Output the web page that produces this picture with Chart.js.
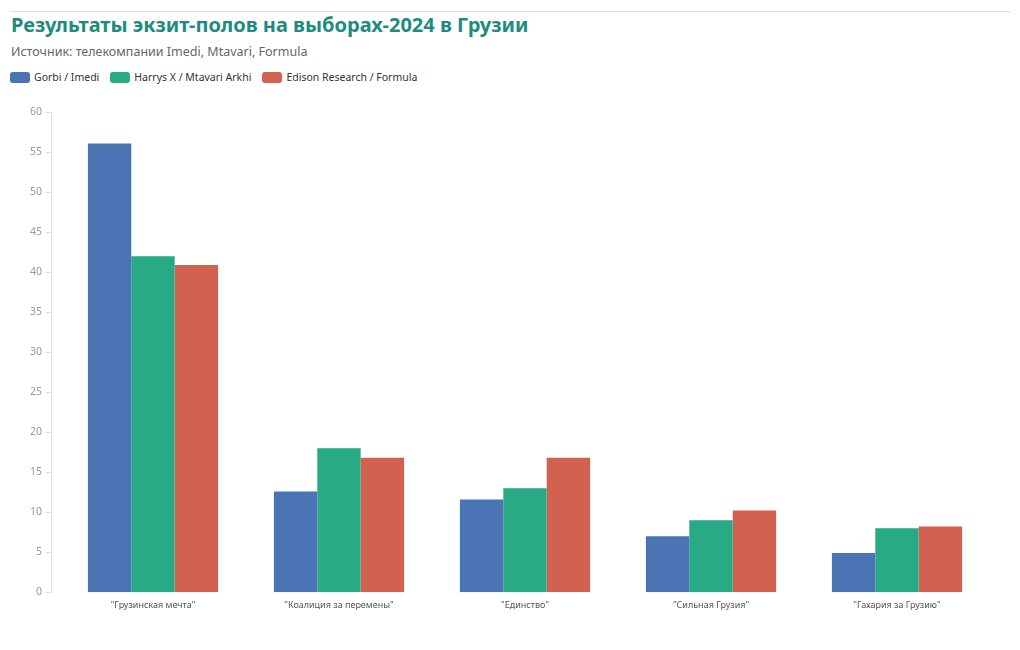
<!DOCTYPE html>
<html>
<head>
<meta charset="utf-8">
<script src="https://cdn.jsdelivr.net/npm/chart.js@4"></script>
<style>
  body { margin: 0; background: #fff; font-family: "Noto Sans", sans-serif; }
  #wrap { position: relative; width: 1020px; height: 650px; }
  #rule { position: absolute; left: 10px; top: 11px; width: 1000px; border-top: 1px solid #ddd; }
  #title { position: absolute; left: 11px; top: 11px; font-size: 20px; font-weight: 700; color: #1d8c7e; white-space: nowrap; }
  #subtitle { position: absolute; left: 11px; top: 43px; font-size: 12.5px; color: #666; white-space: nowrap; }
  #legend { position: absolute; left: 10px; top: 70px; font-size: 10.5px; color: #333; display: flex; }
  #legend span.item { display: flex; align-items: center; margin-right: 11px; }
  #legend span.box { width: 20px; height: 11px; border-radius: 3px; margin-right: 4px; }
  #box { position: absolute; left: 0; top: 88px; width: 1020px; height: 540px; }
</style>
</head>
<body>
<div id="wrap">
  <div id="rule"></div>
  <div id="title">Результаты экзит-полов на выборах-2024 в Грузии</div>
  <div id="subtitle">Источник: телекомпании Imedi, Mtavari, Formula</div>
  <div id="legend"></div>
  <div id="box"><canvas id="chart"></canvas></div>
</div>
<script>
const parties = ['"Грузинская мечта"', '"Коалиция за перемены"', '"Единство"', '"Сильная Грузия"', '"Гахария за Грузию"'];
const seriesNames = ['Gorbi / Imedi', 'Harrys X / Mtavari Arkhi', 'Edison Research / Formula'];
const gorbi = [56.1, 12.6, 11.6, 7.0, 4.9];
const harrys = [42.0, 18.0, 13.0, 9.0, 8.0];
const edison = [40.9, 16.8, 16.8, 10.2, 8.2];
const colors = ['#4a74b4', '#28ab84', '#d16250'];

const values = [gorbi, harrys, edison];

// legend in html, built from the series
const legend = document.getElementById('legend');
seriesNames.forEach((name, i) => {
  const item = document.createElement('span');
  item.className = 'item';
  const box = document.createElement('span');
  box.className = 'box';
  box.style.background = colors[i];
  item.appendChild(box);
  item.appendChild(document.createTextNode(name));
  legend.appendChild(item);
});

// y axis line sits a bit left of the plot
const axisLine = {
  id: 'axisLine',
  afterDraw(chart) {
    const ctx = chart.ctx;
    const y = chart.scales.y;
    const x = chart.chartArea.left - 9;
    ctx.save();
    ctx.strokeStyle = '#e0e0e0';
    ctx.lineWidth = 1;
    ctx.beginPath();
    ctx.moveTo(x + 0.5, y.top);
    ctx.lineTo(x + 0.5, y.bottom);
    y.ticks.forEach(t => {
      const py = Math.round(y.getPixelForValue(t.value)) + 0.5;
      ctx.moveTo(x - 5, py);
      ctx.lineTo(x + 0.5, py);
    });
    ctx.stroke();
    ctx.restore();
  }
};

new Chart(document.getElementById('chart'), {
  type: 'bar',
  data: {
    labels: parties,
    datasets: seriesNames.map((name, i) => ({
      label: name,
      data: values[i],
      backgroundColor: colors[i],
      borderWidth: 0,
      categoryPercentage: 0.7,
      barPercentage: 1.0
    }))
  },
  options: {
    responsive: true,
    maintainAspectRatio: false,
    animation: false,
    layout: { padding: { left: 11, right: 30, top: 19, bottom: 9 } },
    plugins: {
      legend: { display: false },
      tooltip: { enabled: false }
    },
    scales: {
      x: {
        grid: { display: false, drawTicks: false },
        border: { display: false },
        ticks: { color: '#555', font: { family: 'Noto Sans', size: 9 }, padding: 8, maxRotation: 0 }
      },
      y: {
        min: 0,
        max: 60,
        grid: { display: false, drawTicks: false },
        border: { display: false },
        ticks: { stepSize: 5, color: '#999', font: { family: 'Noto Sans', size: 10.5 }, padding: 18 },
        afterFit(scale) { scale.width = 49; }
      }
    }
  },
  plugins: [axisLine]
});
</script>
</body>
</html>
